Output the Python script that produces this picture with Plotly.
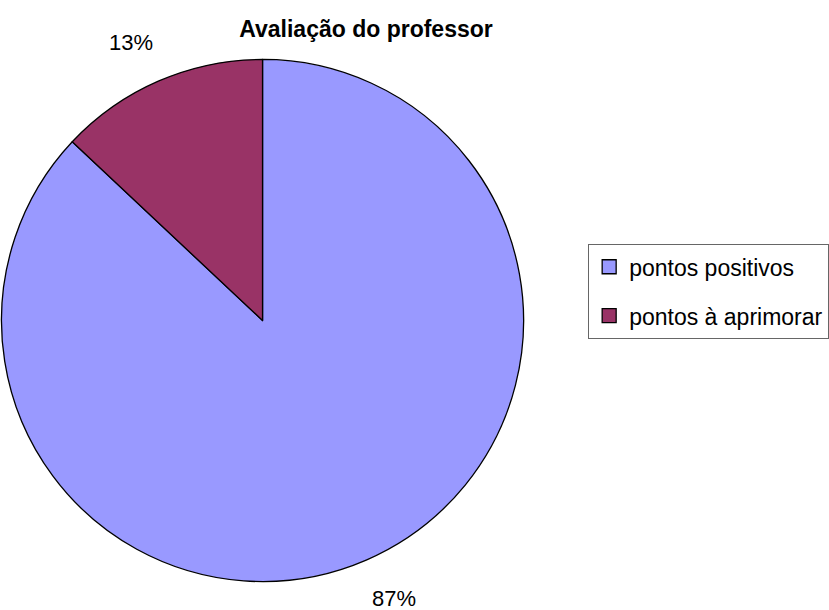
import math
import plotly.graph_objects as go

title = "Avaliação do professor"
labels = ["pontos positivos", "pontos à aprimorar"]
values = [87, 13]
colors = ["#9999FF", "#993366"]

W, H = 829, 610
cx, cy, r = 263.5, 320.5, 262          # pie centre / radius in px
label_rx, label_ry = 333, 303          # distance of the percent labels from the centre
FONT = "Liberation Sans, Arial, sans-serif"

fig = go.Figure()
fig.add_trace(go.Pie(
    labels=labels, values=values, sort=False, direction="clockwise", rotation=0,
    marker=dict(colors=colors, line=dict(color="black", width=1.3)),
    textinfo="none",
    domain=dict(x=[(cx - r) / W, (cx + r) / W], y=[1 - (cy + r) / H, 1 - (cy - r) / H]),
    showlegend=False, hoverinfo="label+percent",
))

# percent labels placed outside each slice, at the slice's mid angle
total = sum(values)
cum = 0
for v in values:
    mid = (cum + v / 2) / total * 2 * math.pi      # clockwise from 12 o'clock
    cum += v
    px = cx + label_rx * math.sin(mid)
    py = cy - label_ry * math.cos(mid)
    fig.add_annotation(
        x=px / W, y=1 - py / H, xref="paper", yref="paper",
        text=f"{round(v / total * 100)}%", showarrow=False,
        xanchor="center", yanchor="middle",
        font=dict(family=FONT, size=22, color="black"),
    )

# legend entries (one group each so the spacing matches the reference)
for lab, col in zip(labels, colors):
    fig.add_trace(go.Scatter(
        x=[None], y=[None], mode="markers", name=lab, legendgroup=lab,
        marker=dict(symbol="square", size=14, color=col, line=dict(color="black", width=1.3)),
    ))

fig.update_layout(
    width=W, height=H,
    margin=dict(l=0, r=0, t=0, b=0),
    paper_bgcolor="white", plot_bgcolor="white",
    font=dict(family=FONT, size=22, color="black"),
    title=dict(text="<b>" + title + "</b>", x=366 / W, xanchor="center",
               y=1 - 29 / H, yanchor="middle",
               font=dict(family=FONT, size=23, color="black")),
    xaxis=dict(visible=False), yaxis=dict(visible=False),
    legend=dict(x=590 / W, xanchor="left", y=1 - 244 / H, yanchor="top",
                bordercolor="#666666", borderwidth=1.3, bgcolor="white",
                tracegroupgap=16, itemwidth=30,
                font=dict(family=FONT, size=23, color="black")),
)

fig.write_html("out.html", config={"displayModeBar": False},
               post_script="document.body.style.margin='0';")
